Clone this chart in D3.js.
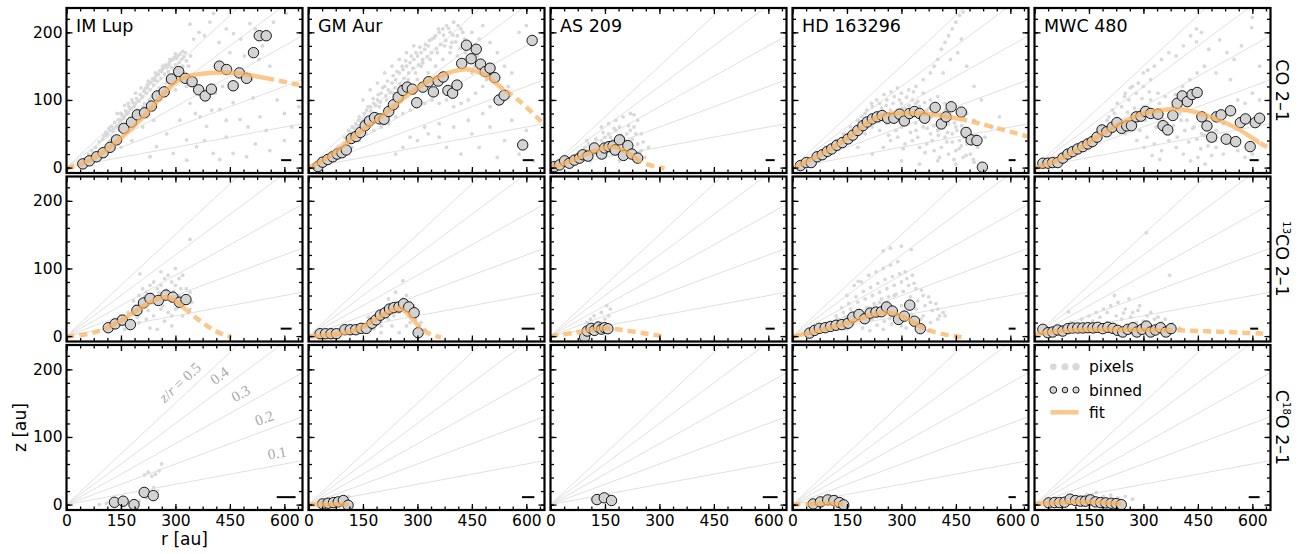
<!DOCTYPE html>
<html><head><meta charset="utf-8">
<script src="https://cdn.jsdelivr.net/npm/d3@7"></script>
<style>body{margin:0;background:#fff}svg{display:block}</style>
</head><body>
<svg id="c" width="1307" height="554"></svg>
<script>
// ---------------- DATA ----------------
const sources = ["IM Lup", "GM Aur", "AS 209", "HD 163296", "MWC 480"];
const lineNames = [["", "CO 2–1"], ["13", "CO 2–1"], ["C", "18", "O 2–1"]];
const rTicks = [0, 150, 300, 450, 600];
const zTicks = [0, 100, 200];
const zrSlopes = [0.1, 0.2, 0.3, 0.4, 0.5];
const zrLabelR = [586, 556, 496, 441, 335];
const zrLabelText = ["0.1", "0.2", "0.3", "0.4", "0.5"];

// binned surfaces [r au, z au]
const bin_IMLup_CO = [[45,5.5],[63,10],[83,16],[101,22],[120,30],[138,41],[158,58],[179,67],[195,78],[215,81],[234,91],[250,106],[269,112],[289,131],[309,142],[327,132],[346,127],[364,115],[382,106],[399,116],[421,150],[441,145],[459,121],[476,140],[496,132],[515,170],[531,195],[550,195]];
const bin_GMAur_CO = [[26,1.5],[39,8],[53,12],[67,16],[79,20],[92,22],[104,26],[118,43],[131,46],[143,52],[156,62],[168,69],[182,74],[196,72],[208,71.5],[221,83],[234,93],[247,104],[260,114],[272,119],[286,116],[298,96],[315,119],[331,127],[344,112],[357,128],[371,134],[384,114],[397,110],[409,122],[422,154],[435,181],[448,161],[462,175],[474,153],[487,142],[500,147],[513,133],[525,100],[539,107],[590,33.5],[616,188]];
const bin_AS209_CO = [[11,1.5],[25,4],[39,10],[52,6.5],[66,11],[80,14],[89,19],[103,17],[121,29],[141,20],[149,29],[161,31],[172,32],[178,26],[190,41],[201,18],[213,32.5],[224,20],[240,14]];
const bin_HD_CO = [[22,3],[38,7.4],[51.5,7.4],[68,16],[82,19],[96,24],[108,27.6],[122,33],[137,37],[153,42.4],[166,48],[180,55],[194,62],[206,67.5],[220,72],[233,75],[247,77],[262,73],[279,73],[295,79],[308,69],[322,80],[336,83],[350,80],[364,73],[393,89],[410,64.5],[423,75],[437,90],[465,82],[478,52],[492,41],[508,40],[523,0.6]];
const bin_MWC_CO = [[23,6.5],[37,6.5],[50,7.4],[64,7.4],[78,14],[92,20],[105,23.6],[119,27.6],[133,31],[147,35],[159,38.4],[172,45],[186,55.7],[199,53],[214,59.7],[227,66.5],[240,58],[254,61.6],[267,62],[280,75],[293,76],[306,83],[320,80],[340,79],[354,62],[367,55.7],[381,77],[393,95],[407,106],[421,97.5],[434,108],[448,111],[461,75],[475,61.6],[488,45],[501,75],[514,78],[528,42],[540,84],[554,38.4],[567,66.5],[581,72],[594,31],[608,66.5],[620,73]];

const bin_IMLup_13CO = [[115,12.4],[134,18],[154,23.6],[176,17],[194,38],[212,49],[230,55.7],[253,52.7],[274,60.6],[293,57.6],[311,50],[329,54]];
const bin_GMAur_13CO = [[32,3.5],[47,3.5],[62,3.5],[77,3.5],[100,9.4],[115,9.4],[130,9.4],[145,11.4],[159,11.4],[175,19],[186,24],[198,31],[211,34.5],[223,40],[235,42],[249,43],[262,47.8],[276,43],[291,34.5],[302,5]];
const bin_AS209_13CO = [[94,-1.5],[101,7.4],[112,11.4],[121,8.4],[132,13.3],[141,10.3],[149,12.4],[158,10.9]];
const bin_HD_13CO = [[47,4.4],[61,8.4],[74,11.4],[90,12.4],[105,14.3],[120,16],[136,17],[153,19],[166,28],[183,32],[199,25.7],[214,34],[230,35.5],[245,36],[259,43],[275,37],[292,24.6],[308,29.5],[323,45.8],[336,22],[352,11]];
const bin_MWC_13CO = [[23,10],[37,5],[50,6],[64,9],[78,7.4],[92,11],[105,12],[119,12],[133,12],[147,12.4],[161,12],[174,13],[188,11],[202,13],[216,11.4],[229,8.4],[243,6],[257,10],[271,12.4],[282,6],[296,10],[308,14.8],[320,6],[333,9],[347,12.4],[362,6],[376,11]];

const bin_IMLup_C18O = [[132,3.4],[156,5],[186,0],[214,18],[239,13.3]];
const bin_GMAur_C18O = [[39,1],[54,2],[69,3],[82,4],[96,6],[109,-1]];
const bin_AS209_C18O = [[128,7.4],[148,10],[168,6]];
const bin_HD_C18O = [[57,1],[77,4],[97,7],[114,6],[129,3],[141,-0.5]];
const bin_MWC_C18O = [[39,2.5],[55,3],[69,3],[83,3.5],[98,8],[113,6],[127,5],[140,5],[154,7],[168,4],[182,3],[196,2.5],[211,2],[225,1.5],[239,0]];

// fitted surfaces (sampled off the figure) and range where drawn solid
const fit_IMLup_CO = [[0,-1],[45,5],[90,18],[138,38],[185,60],[230,85],[265,108],[294,125],[322,134],[368,139],[441,142],[505,137],[551,132],[600,127],[650,121]];
const fit_GMAur_CO = [[0,0],[50,12],[113,41],[160,60],[205,76],[250,98],[297,117],[335,130],[370,137],[400,143],[434,147],[471,142],[500,132],[526,120],[545,113],[572,103],[609,85],[636,71],[650,63]];
const fit_AS209_CO = [[0,0],[40,6],[75,14],[120,25],[158,31],[181,31],[195,27],[222,19],[245,9],[277,2.5],[314,-1]];
const fit_HD_CO = [[0,-1],[79,19],[130,35],[171,51],[210,68],[244,78],[290,80],[364,81],[419,76],[474,71],[510,66],[580,56],[648,46]];
const fit_MWC_CO = [[0,-1],[69,11],[130,30],[188,51],[240,66],[280,78],[344,85],[390,88],[445,83],[510,70],[565,57],[606,41],[638,31],[650,28]];
const fit_IMLup_13CO = [[0,-1],[74,3.5],[111,12],[166,27],[221,49],[267,59],[294,56],[322,42],[368,22],[414,5],[455,-1.5]];
const fit_GMAur_13CO = [[0,-1],[50,1],[94,3.5],[140,10],[186,25],[232,40],[251,42],[269,37],[306,12],[333,2.5],[365,-2]];
const fit_AS209_13CO = [[0,0],[75,5],[98,8.4],[149,12.4],[167,11.4],[232,6.5],[306,0]];
const fit_HD_13CO = [[0,-1],[51,5],[100,12],[143,17],[216,32],[262,37],[304,29.5],[336,20],[355,12.4],[401,3.5],[475,-2.4]];
const fit_MWC_13CO = [[0,2.5],[50,7],[142,10],[234,10],[326,9],[380,9],[510,6.5],[643,3.5]];
const fit_GMAur_C18O = [[0,0],[40,0],[80,0.5],[110,0]];
const fit_HD_C18O = [[0,0],[60,1],[100,2],[140,0]];
const fit_MWC_C18O = [[0,1],[50,2],[100,4],[150,4],[200,3],[240,1]];

const solid_CO = [[40,555],[0,540],[0,245],[0,480],[0,620]];
const solid_13CO = [[110,330],[0,310],[98,165],[0,360],[0,380]];
const solid_C18O = [[0,0],[20,110],[0,0],[40,145],[0,240]];

// beam FWHM (au)
const beam_CO = [28, 30, 25, 19, 25];
const beam_13CO = [30, 36, 25, 19, 22];
const beam_C18O = [52, 34, 41, 20, 30];

// individual pixel emission surfaces [r, z]
const px_IMLup_CO = [[50,12],[60,20],[70,25],[80,30],[90,38],[100,42],[110,48],[120,55],[130,58],[140,62],[150,70],[160,75],[170,82],[180,88],[190,95],[200,98],[210,105],[220,110],[230,115],[240,122],[250,128],[260,132],[270,138],[280,142],[290,148],[300,152],[310,155],[320,150],[330,158],[175,72],[195,85],[215,95],[235,105],[255,118],[275,125],[295,135],[315,140],[205,118],[225,128],[245,140],[265,150],[285,160],[300,168],[320,172],[140,80],[160,92],[180,100],[120,40],[200,75],[260,100],[300,115],[330,120],[340,212],[350,190],[365,200],[380,195],[395,215],[405,228],[420,185],[440,205],[460,198],[480,190],[505,213],[520,205],[540,180],[552,200],[570,215],[605,228],[450,170],[490,165],[530,160],[560,150],[340,95],[355,80],[368,75],[386,61],[400,85],[422,86],[440,70],[459,96],[478,71],[500,60],[514,103],[533,75],[550,55],[580,100],[600,80],[620,60],[640,90],[386,100],[410,110],[430,120],[312,70],[276,50],[248,31],[230,16],[294,21],[331,41],[358,31],[404,21],[422,12],[459,21],[496,16],[331,11],[380,40],[440,45],[520,35],[560,25],[600,40],[470,120],[510,130],[150,30],[180,40],[210,60],[240,70],[222,122],[242,132],[262,142],[282,152],[190,110],[170,95],[150,80],[290,128],[310,130],
  [103,47],[108,52],[114,50],[117,58],[123,61],[127,54],[133,67],[136,60],[143,71],[147,66],[153,78],[157,73],[163,84],[166,79],[172,90],[177,86],[183,96],[187,91],[193,102],[197,99],[203,108],[207,103],[213,113],[217,117],[223,119],[227,124],[233,126],[237,131],[243,129],[247,136],[253,138],[257,143],[263,145],[267,147],[273,152],[277,148],[283,155],[287,158],[293,160],[297,163],[303,161],[307,165],[313,168],[317,160],[323,164],[327,170],[211,90],[229,100],[251,112],[271,118],[289,122],[186,70],[166,62],[146,55],[126,45],[306,140],[318,146],[336,150],[342,165]];
const px_GMAur_CO = [[60,20],[80,30],[100,45],[110,55],[120,60],[130,65],[140,75],[150,70],[160,85],[170,90],[180,95],[190,100],[200,110],[210,120],[220,115],[230,125],[240,130],[250,140],[260,145],[270,150],[280,155],[290,160],[300,165],[310,170],[320,175],[330,180],[340,190],[350,195],[360,200],[370,205],[380,210],[390,200],[400,215],[410,195],[420,205],[430,190],[120,30],[140,40],[160,50],[180,55],[200,60],[220,65],[240,75],[260,80],[280,85],[300,90],[320,95],[340,100],[360,95],[380,100],[400,90],[420,95],[440,100],[460,110],[480,120],[150,100],[170,115],[190,125],[210,140],[230,150],[250,160],[270,170],[290,180],[310,150],[330,140],[350,150],[370,160],[390,170],[410,165],[430,160],[450,140],[250,100],[270,110],[300,130],[320,120],[340,125],[360,130],[380,140],[300,40],[330,50],[360,45],[380,30],[400,60],[420,20],[450,50],[470,30],[500,60],[520,15],[540,40],[560,70],[580,20],[600,55],[620,10],[480,80],[500,90],[530,100],[550,120],[440,70],[360,65],[320,60],[280,45],[260,30],[240,20],[450,200],[470,190],[480,210],[500,185],[520,170],[540,150],[560,140],[580,200],[600,210],[195,90],[215,100],[235,110],[255,120],[275,130],[295,140],[315,155],[335,160],[355,170],[375,180],[395,185],
  [105,38],[112,48],[118,52],[126,58],[134,62],[138,70],[146,66],[153,80],[158,74],[164,90],[172,84],[178,102],[185,92],[192,108],[198,97],[204,118],[213,106],[218,128],[226,111],[233,136],[238,118],[244,142],[252,124],[258,150],[263,132],[268,158],[276,140],[283,165],[288,147],[296,170],[303,152],[307,178],[314,160],[322,182],[327,164],[333,188],[339,170],[346,192],[352,176],[358,205],[364,182],[372,196],[378,188],[386,206],[392,178],[398,196],[405,186],[412,210],[418,176],[425,200],[432,170],[438,185],[444,160],[452,178],[458,150],[465,165],[472,140],[480,155],[490,130],[498,145]];
const px_AS209_CO = [[60,5],[80,20],[100,25],[110,10],[120,35],[130,30],[140,40],[150,45],[160,50],[170,40],[180,55],[190,60],[200,45],[210,50],[220,55],[230,60],[240,35],[250,25],[260,15],[150,15],[170,20],[190,10],[210,15],[230,10],[140,60],[160,65],[180,70],[200,75],[220,80],[230,78],[120,20],[100,40],[200,25],[250,50],[270,30],[240,70],
  [95,30],[105,35],[125,42],[135,25],[145,52],[155,35],[165,45],[175,58],[185,35],[195,48],[205,38],[215,62],[225,42],[235,50],[245,22],[255,38]];
const px_HD_CO = [[100,30],[120,40],[140,50],[160,60],[180,70],[200,80],[220,90],[240,95],[260,100],[280,105],[300,110],[320,115],[340,120],[360,110],[380,100],[400,105],[420,95],[440,90],[460,85],[480,80],[500,70],[200,50],[220,60],[240,55],[260,65],[280,70],[300,60],[320,65],[340,55],[360,60],[380,50],[400,55],[420,45],[440,50],[460,40],[480,35],[250,30],[270,40],[290,45],[310,35],[330,40],[350,30],[370,35],[390,25],[410,30],[430,20],[450,25],[470,15],[490,20],[510,30],[530,45],[550,60],[570,75],[300,10],[350,5],[400,10],[450,5],[500,8],[220,20],[180,30],[380,140],[390,150],[400,160],[410,175],[420,185],[430,195],[440,205],[450,215],[460,225],[470,230],[415,140],[435,160],[455,170],[465,190],[360,130],[480,150],[500,120],[520,100],[340,95],[300,95],[270,85],[310,88],[330,100],[350,90],[370,85],[390,80],[410,70],[430,65],[450,60],[290,75],[250,80],
  [185,62],[192,75],[198,58],[205,85],[212,70],[218,95],[226,78],[232,100],[238,68],[246,88],[252,108],[258,92],[264,75],[271,112],[277,95],[283,82],[289,118],[295,100],[302,87],[308,72],[314,104],[321,92],[327,78],[333,112],[339,66],[345,98],[352,84],[358,70],[364,96],[371,58],[377,88],[383,75],[389,62],[396,92],[402,48],[408,78],[415,64],[421,85],[427,52],[434,72],[440,38],[446,66],[453,55],[459,28],[466,62],[472,45],[478,18],[485,58],[492,42],[498,12],[505,48],[512,35],[265,48],[285,55],[305,28],[325,52],[345,45],[365,22],[385,40],[405,15],[425,38],[445,12],[465,32]];
const px_MWC_CO = [[150,40],[180,50],[200,70],[220,80],[240,90],[260,100],[280,110],[300,120],[320,130],[300,90],[320,100],[340,110],[360,105],[380,90],[400,80],[420,70],[440,60],[460,50],[480,40],[500,30],[520,20],[540,35],[560,25],[580,15],[600,20],[250,50],[270,60],[290,55],[310,45],[330,35],[350,25],[370,40],[390,30],[410,20],[430,10],[450,15],[470,5],[500,55],[520,65],[540,90],[560,100],[580,95],[600,110],[620,100],[300,140],[312,144],[330,150],[350,160],[370,170],[390,165],[410,180],[430,195],[446,186],[446,205],[460,200],[480,175],[510,189],[530,170],[550,160],[570,180],[598,207],[600,222],[620,150],[540,130],[500,140],[250,110],[270,120],
  [205,75],[215,85],[228,95],[236,70],[248,105],[256,82],[264,118],[275,88],[286,125],[296,102],[305,70],[316,112],[326,85],[335,60],[344,95],[353,72],[362,50],[372,83],[383,62],[393,45],[404,70],[414,55],[425,38],[436,58],[447,42],[458,28],[468,48],[478,32],[488,18],[498,40],[282,40],[302,30],[324,18],[345,12],[366,65],[388,108],[408,120],[428,130],[448,140],[468,150]];

const px_IMLup_13CO = [[130,20],[150,30],[170,35],[190,45],[200,60],[210,70],[220,65],[230,75],[240,80],[250,70],[260,75],[270,85],[280,90],[290,80],[300,75],[310,85],[320,90],[330,70],[340,65],[200,20],[220,25],[240,30],[260,40],[280,35],[300,40],[320,30],[340,40],[250,10],[290,15],[202,92],[340,143],[260,95],[300,100],[180,15],[160,10],[230,50],[270,55],[310,60],
  [185,52],[195,28],[205,45],[215,58],[225,38],[235,62],[245,48],[255,64],[265,45],[275,68],[285,52],[295,66],[305,42],[315,70],[325,48],[335,58],[345,50],[290,30],[270,22],[230,12]];
const px_GMAur_13CO = [[150,10],[170,20],[190,30],[200,15],[210,40],[220,25],[230,45],[240,50],[250,35],[260,55],[270,60],[280,50],[290,45],[300,30],[310,20],[260,82],[240,65],[220,55],[180,10],[280,20],[320,10],[200,5],[250,5],
  [165,28],[185,18],[205,28],[215,35],[235,30],[245,40],[255,48],[265,42],[275,38],[285,30],[295,25],[305,15],[230,15],[270,15]];
const px_AS209_13CO = [[100,20],[110,25],[120,30],[130,20],[140,35],[150,25],[160,30],[165,40],[155,45],[120,15],[140,10]];
const px_HD_13CO = [[100,20],[120,30],[140,35],[160,40],[180,50],[200,55],[220,60],[240,65],[260,70],[280,75],[300,80],[320,75],[340,70],[360,60],[380,50],[400,40],[200,20],[220,25],[240,30],[260,35],[280,40],[300,45],[320,50],[340,40],[360,30],[380,20],[150,60],[170,75],[190,80],[210,90],[230,95],[250,100],[270,105],[290,110],[310,95],[330,90],[250,126],[270,130],[300,133],[327,128],[181,81],[150,10],[250,10],[300,15],[350,10],[400,25],[420,30],[260,50],[240,50],[280,60],
  [125,25],[135,42],[145,28],[155,48],[165,33],[175,58],[185,38],[195,66],[205,42],[215,72],[225,48],[235,78],[245,55],[255,84],[265,58],[275,88],[285,62],[295,92],[305,66],[315,85],[325,58],[335,78],[345,52],[355,68],[365,45],[375,58],[385,38],[395,48],[405,30],[415,35],[193,12],[213,8],[233,16],[253,22],[273,18],[293,26],[313,12],[333,20],[353,25],[373,8],[168,20],[188,28],[208,32],[228,36],[248,42],[268,26],[288,30],[308,36],[328,32]];
const px_MWC_13CO = [[100,20],[130,25],[150,30],[170,35],[190,40],[210,45],[230,50],[250,40],[270,35],[290,45],[310,30],[330,25],[350,20],[370,15],[200,20],[240,25],[280,20],[320,15],[308,153],[372,90],[94,36],[260,55],[220,60],
  [160,22],[180,28],[200,35],[225,30],[245,34],[265,28],[285,38],[300,22],[320,35],[340,28],[360,25],[380,18],[400,12],[150,15],[130,12]];

const px_IMLup_C18O = [[90,0],[110,2],[130,-2],[200,5],[215,44],[225,48],[235,42],[245,45],[262,60],[255,50],[240,25],[220,10],[250,20],[180,-2]];
const px_GMAur_C18O = [[60,5],[90,10],[110,12]];
const px_AS209_C18O = [[115,8],[130,12],[160,14],[175,10],[120,3]];
const px_HD_C18O = [[60,4],[90,10],[120,12],[140,8]];
const px_MWC_C18O = [[145,15],[170,18],[190,12],[210,14],[230,10],[250,12],[270,8],[160,10],[200,8],[240,5]];

const binned = [
  [bin_IMLup_CO, bin_GMAur_CO, bin_AS209_CO, bin_HD_CO, bin_MWC_CO],
  [bin_IMLup_13CO, bin_GMAur_13CO, bin_AS209_13CO, bin_HD_13CO, bin_MWC_13CO],
  [bin_IMLup_C18O, bin_GMAur_C18O, bin_AS209_C18O, bin_HD_C18O, bin_MWC_C18O]];
const fits = [
  [fit_IMLup_CO, fit_GMAur_CO, fit_AS209_CO, fit_HD_CO, fit_MWC_CO],
  [fit_IMLup_13CO, fit_GMAur_13CO, fit_AS209_13CO, fit_HD_13CO, fit_MWC_13CO],
  [[], fit_GMAur_C18O, [], fit_HD_C18O, fit_MWC_C18O]];
const solids = [solid_CO, solid_13CO, solid_C18O];
const beams = [beam_CO, beam_13CO, beam_C18O];
const pixels = [
  [px_IMLup_CO, px_GMAur_CO, px_AS209_CO, px_HD_CO, px_MWC_CO],
  [px_IMLup_13CO, px_GMAur_13CO, px_AS209_13CO, px_HD_13CO, px_MWC_13CO],
  [px_IMLup_C18O, px_GMAur_C18O, px_AS209_C18O, px_HD_C18O, px_MWC_C18O]];

// ---------------- DRAWING ----------------
const FONT = "'DejaVu Sans', sans-serif";
const W = 236, H = 165;
const colX = i => 66.5 + 242 * i;
const rowY = j => 8 + 168.5 * j;
const x = d3.scaleLinear().domain([0, 650]).range([0, W]);
const y = d3.scaleLinear().domain([-8, 236]).range([H, 0]);
const fitColor = "#fbb25f";
const pxColor = "#d9d9d9";
const svg = d3.select("#c");
const defs = svg.append("defs");
const line = d3.line().x(d => x(d[0])).y(d => y(d[1])).curve(d3.curveBasis);
const rMinor = d3.range(0, 651, 37.5);
const zMinor = d3.range(0, 236, 20);

for (let j = 0; j < 3; j++) {
  for (let i = 0; i < 5; i++) {
    const k = j * 5 + i;
    const g = svg.append("g").attr("transform", `translate(${colX(i)},${rowY(j)})`);
    defs.append("clipPath").attr("id", "clip" + k).append("rect").attr("x", 0).attr("y", 0).attr("width", W).attr("height", H);
    const pg = g.append("g").attr("clip-path", `url(#clip${k})`);

    // z/r guide lines
    pg.selectAll(".zr").data(zrSlopes).join("line")
      .attr("x1", x(0)).attr("y1", y(0))
      .attr("x2", x(650)).attr("y2", s => y(650 * s))
      .attr("stroke", "#e0e0e0").attr("stroke-width", 1);

    // pixels
    pg.selectAll(".px").data(pixels[j][i]).join("circle")
      .attr("cx", d => x(d[0])).attr("cy", d => y(d[1])).attr("r", 1.9)
      .attr("fill", pxColor);

    // binned
    pg.selectAll(".bin").data(binned[j][i]).join("circle")
      .attr("cx", d => x(d[0])).attr("cy", d => y(d[1])).attr("r", 5.2)
      .attr("fill", "#d3d3d3").attr("stroke", "#000").attr("stroke-width", 0.9);

    // fit
    const f = fits[j][i];
    if (f.length) {
      const [lo, hi] = solids[j][i];
      const cs = defs.append("clipPath").attr("id", "solid" + k);
      cs.append("rect").attr("x", x(lo)).attr("y", -20).attr("width", x(hi) - x(lo)).attr("height", H + 40);
      const cd = defs.append("clipPath").attr("id", "dash" + k);
      cd.append("rect").attr("x", -20).attr("y", -20).attr("width", x(lo) + 20).attr("height", H + 40);
      cd.append("rect").attr("x", x(hi)).attr("y", -20).attr("width", W + 20).attr("height", H + 40);
      const fg = pg.append("g").attr("opacity", 0.72);
      fg.append("path").attr("d", line(f)).attr("fill", "none").attr("stroke", fitColor)
        .attr("stroke-width", 4.5).attr("clip-path", `url(#solid${k})`);
      fg.append("path").attr("d", line(f)).attr("fill", "none").attr("stroke", fitColor)
        .attr("stroke-width", 4.5).attr("stroke-dasharray", "8,5").attr("clip-path", `url(#dash${k})`);
    }

    // beam bar
    const bw = beams[j][i];
    g.append("line").attr("x1", x(605 - bw / 2)).attr("x2", x(605 + bw / 2))
      .attr("y1", y(11)).attr("y2", y(11)).attr("stroke", "#000").attr("stroke-width", 2);

    // title
    if (j === 0) {
      g.append("text").attr("x", 9.5).attr("y", 24).attr("font-family", FONT)
        .attr("font-size", 17.5).attr("fill", "#000").text(sources[i]);
    }

    // ticks (inward, all sides)
    const styleAxis = a => {
      a.select(".domain").remove();
      a.attr("font-family", FONT).attr("font-size", 15.5);
      a.selectAll(".tick line").attr("stroke", "#000").attr("stroke-width", 1.3);
      a.selectAll(".tick text").attr("fill", "#000");
    };
    g.append("g").attr("transform", `translate(0,${H})`)
      .call(d3.axisBottom(x).tickValues(rTicks).tickSize(-6).tickPadding(5)
        .tickFormat(j === 2 ? d3.format("d") : () => ""))
      .call(styleAxis);
    g.append("g").attr("transform", `translate(0,${H})`)
      .call(d3.axisBottom(x).tickValues(rMinor).tickSize(-3.5).tickFormat(() => "")).call(styleAxis);
    g.append("g").call(d3.axisTop(x).tickValues(rTicks).tickSize(-6).tickFormat(() => "")).call(styleAxis);
    g.append("g").call(d3.axisTop(x).tickValues(rMinor).tickSize(-3.5).tickFormat(() => "")).call(styleAxis);
    g.append("g")
      .call(d3.axisLeft(y).tickValues(zTicks).tickSize(-6).tickPadding(4)
        .tickFormat(i === 0 ? d3.format("d") : () => ""))
      .call(styleAxis);
    g.append("g").call(d3.axisLeft(y).tickValues(zMinor).tickSize(-3.5).tickFormat(() => "")).call(styleAxis);
    g.append("g").attr("transform", `translate(${W},0)`)
      .call(d3.axisRight(y).tickValues(zTicks).tickSize(-6).tickFormat(() => "")).call(styleAxis);
    g.append("g").attr("transform", `translate(${W},0)`)
      .call(d3.axisRight(y).tickValues(zMinor).tickSize(-3.5).tickFormat(() => "")).call(styleAxis);

    // frame
    g.append("rect").attr("x", 0).attr("y", 0).attr("width", W).attr("height", H)
      .attr("fill", "none").attr("stroke", "#000").attr("stroke-width", 2.2);

    // z/r labels in IM Lup C18O panel
    if (j === 2 && i === 0) {
      const ratio = (y(0) - y(1)) / (x(1) - x(0));
      zrSlopes.forEach((s, n) => {
        const ang = Math.atan(s * ratio) * 180 / Math.PI;
        const r0 = zrLabelR[n];
        const t = g.append("text")
          .attr("transform", `translate(${x(r0)},${y(s * r0)}) rotate(${-ang})`)
          .attr("y", -7).attr("text-anchor", "middle")
          .attr("font-family", "'Liberation Serif', 'DejaVu Serif', serif")
          .attr("font-size", 15).attr("fill", "#a9a9a9");
        if (n === 4) {
          t.append("tspan").attr("font-style", "italic").text("z");
          t.append("tspan").text("/");
          t.append("tspan").attr("font-style", "italic").text("r");
          t.append("tspan").text(" = " + zrLabelText[n]);
        } else {
          t.text(zrLabelText[n]);
        }
      });
    }

    // legend in MWC 480 C18O panel
    if (j === 2 && i === 4) {
      const lg = g.append("g");
      [[18.8, 3.3], [30.5, 3.5], [41.5, 3.7]].forEach(p => lg.append("circle")
        .attr("cx", p[0]).attr("cy", 21.7).attr("r", p[1]).attr("fill", pxColor));
      [[18.8, 3.4], [30.5, 2.8], [41.5, 3.1]].forEach(p => lg.append("circle")
        .attr("cx", p[0]).attr("cy", 45).attr("r", p[1]).attr("fill", "#d3d3d3")
        .attr("stroke", "#000").attr("stroke-width", 0.9));
      lg.append("line").attr("x1", 16).attr("x2", 44).attr("y1", 67.3).attr("y2", 67.3)
        .attr("stroke", fitColor).attr("stroke-opacity", 0.72).attr("stroke-width", 4.5);
      ["pixels", "binned", "fit"].forEach((t, n) => lg.append("text")
        .attr("x", 54.5).attr("y", [21.7, 45, 67.3][n] + 5.5)
        .attr("font-family", FONT).attr("font-size", 15.5).attr("fill", "#000").text(t));
    }
  }
}

// row labels
for (let j = 0; j < 3; j++) {
  const cy = rowY(j) + H / 2;
  const t = svg.append("text").attr("transform", `translate(1275.5,${cy}) rotate(90)`)
    .attr("text-anchor", "middle").attr("font-family", FONT).attr("font-size", 17.5).attr("fill", "#000");
  if (j === 0) {
    t.text(lineNames[0][1]);
  } else if (j === 1) {
    t.append("tspan").attr("font-size", 10).attr("dy", -7).text(lineNames[1][0]);
    t.append("tspan").attr("dy", 7).text(lineNames[1][1]);
  } else {
    t.append("tspan").text(lineNames[2][0]);
    t.append("tspan").attr("font-size", 10).attr("dy", -7).text(lineNames[2][1]);
    t.append("tspan").attr("dy", 7).text(lineNames[2][2]);
  }
}

// axis titles
svg.append("text").attr("x", colX(0) + W / 2).attr("y", 545).attr("text-anchor", "middle")
  .attr("font-family", FONT).attr("font-size", 17).attr("fill", "#000").text("r [au]");
svg.append("text").attr("transform", `translate(26,${rowY(2) + H / 2}) rotate(-90)`).attr("text-anchor", "middle")
  .attr("font-family", FONT).attr("font-size", 17).attr("fill", "#000").text("z [au]");
</script>
</body></html>
